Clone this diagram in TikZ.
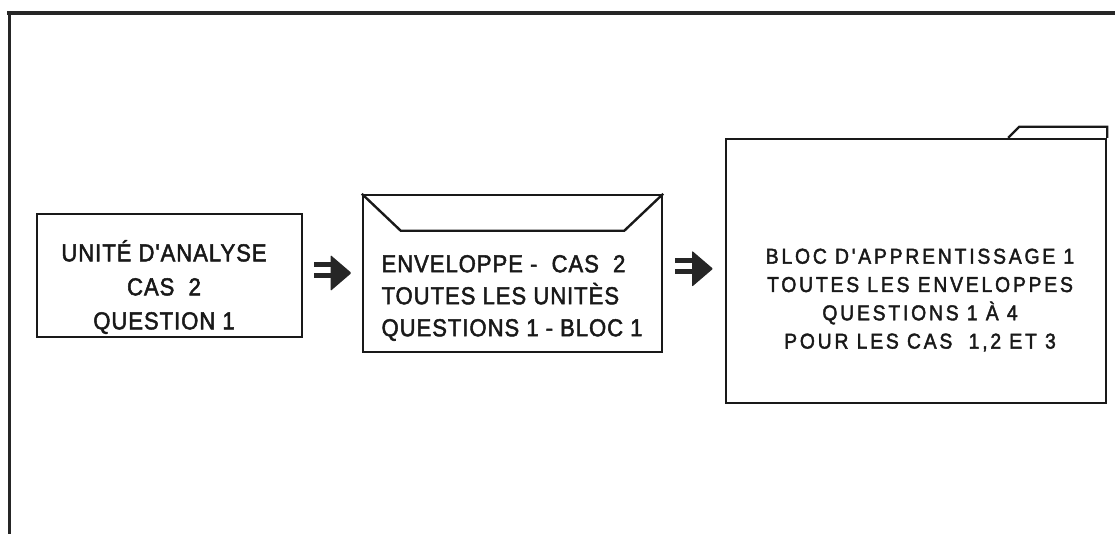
\documentclass[tikz,border=0pt]{standalone}
\usepackage{fontspec}
\setmainfont{Liberation Sans}[Ligatures=TeXOff, FakeStretch=0.9, FakeBold=2]
\usetikzlibrary{calc}
\begin{document}
\begin{tikzpicture}[x=1pt,y=-1pt,
  box/.style={draw=black!90, line width=2.4pt, minimum width=#1, inner sep=0pt},
  label1/.style={align=center, text=black!90, font={\fontsize{24.5}{34}\selectfont\addfontfeature{LetterSpace=4}}},
  label2/.style={align=left, anchor=west, text=black!90, font={\fontsize{24.5}{32}\selectfont\addfontfeature{LetterSpace=4}}},
  label3/.style={align=center, text=black!90, font={\fontsize{21.5}{28.3}\selectfont\addfontfeature{LetterSpace=13}}},
  pics/fatarrow/.style={code={
    \fill[black!85] (-19,-11) rectangle (0,-6);
    \fill[black!85] (-19,0.5) rectangle (0,5.5);
    \fill[black!85, rounded corners=1pt] (-2,-18) -- (19,0) -- (-2,18) -- cycle;
  }}]
\useasboundingbox (0,0) rectangle (1115,534);

% page frame (top and left edges)
\draw[line width=4.6pt, black!85] (7,13) -- (1115,13);
\draw[line width=3.4pt, black!85] (9.5,11) -- (9.5,534);

% unit of analysis
\node[box=265pt, minimum height=123pt] (unit) at (169.5,275.5) {};
\node[label1] (unittext) at (164,287) {UNITÉ D'ANALYSE\\CAS\ \ 2\\QUESTION 1};

% envelope with its flap
\node[box=299pt, minimum height=157pt] (env) at (512.5,273.5) {};
\draw[line width=2.4pt, black!90, line join=miter]
  (env.north west) -- ++(39,37) coordinate (flapL)
  -- ($(env.north east)+(-39,37)$) coordinate (flapR) -- (env.north east);
\node[label2] (envtext) at (378,298) {ENVELOPPE -\ \ CAS\ \ 2\\TOUTES LES UNITÈS\\QUESTIONS 1 - BLOC 1};

% folder with its tab
\node[box=380pt, minimum height=264pt] (folder) at (916,271) {};
\draw[line width=2.4pt, black!90]
  ($(folder.north east)+(-99,0)$) coordinate (tabA) -- ++(11,-11) coordinate (tabB)
  -- ($(folder.north east)+(0,-11)$) coordinate (tabC) -- (folder.north east);
\node[label3] (foldertext) at (920,300) {BLOC D'APPRENTISSAGE 1\\TOUTES LES ENVELOPPES\\QUESTIONS 1 À 4\\POUR LES CAS\ \ 1,2 ET 3};

% arrows between the stages
\coordinate (a1) at ($(unit.east)!0.5!(env.west)$);
\coordinate (a2) at ($(env.east)!0.5!(folder.west)$);
\pic at ([yshift=1.5pt]a1) {fatarrow};
\pic at ([yshift=3.5pt]a2) {fatarrow};
\end{tikzpicture}
\end{document}
